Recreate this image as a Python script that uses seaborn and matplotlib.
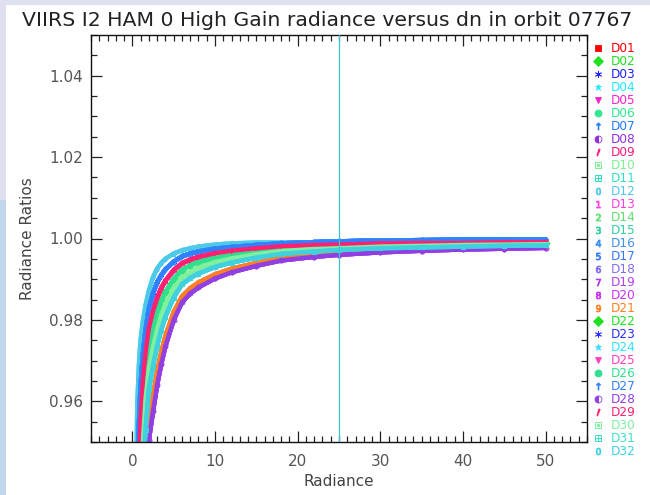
import numpy as np
import pandas as pd
import matplotlib
matplotlib.use("Agg")
import matplotlib.pyplot as plt
import seaborn as sns
from matplotlib.lines import Line2D
from matplotlib.ticker import MultipleLocator, FormatStrFormatter
from matplotlib.patches import Rectangle

nan = np.nan

# ---------------- data ----------------
title = "VIIRS I2 HAM 0 High Gain radiance versus dn in orbit 07767"
detectors = ["D%02d" % k for k in range(1, 33)]

radiance = [0.5, 0.6, 0.8, 1.0, 1.3, 1.6, 2.0, 2.5, 3.0, 3.5, 4.0, 5.0, 6.0,
            7.0, 8.0, 10, 12, 15, 18, 22, 25, 30, 35, 40, 45, 50]

# curve families (top of the band -> bottom of the band)
ratio_level_0 = [0.946, 0.959, 0.969, 0.975, 0.980, 0.9836, 0.9872, 0.9905, 0.9926, 0.9940, 0.9950, 0.9963, 0.9971,
                 0.9976, 0.9980, 0.9985, 0.9988, 0.9990, 0.9990, 0.9990, 0.9991, 0.9991, 0.9991, 0.9992, 0.9992, 0.9992]
ratio_level_1 = [nan, 0.940, 0.9545, 0.964, 0.972, 0.9775, 0.9828, 0.9865, 0.9892, 0.9910, 0.9924, 0.9943, 0.9956,
                 0.9963, 0.9968, 0.9975, 0.9979, 0.9984, 0.9988, 0.9991, 0.9993, 0.9995, 0.9996, 0.9997, 0.9997, 0.9997]
ratio_level_2 = [nan, nan, 0.944, 0.9555, 0.9655, 0.9720, 0.9780, 0.9822, 0.9854, 0.9878, 0.9896, 0.9922, 0.9939,
                 0.9948, 0.9955, 0.9964, 0.9970, 0.9976, 0.9981, 0.9984, 0.9985, 0.9988, 0.9989, 0.9989, 0.9991, 0.9991]
ratio_level_3 = [nan, nan, nan, 0.946, 0.958, 0.9665, 0.9733, 0.9780, 0.9817, 0.9846, 0.9868, 0.9901, 0.9922,
                 0.9934, 0.9942, 0.9953, 0.9961, 0.9969, 0.9975, 0.9979, 0.9981, 0.9984, 0.9985, 0.9987, 0.9988, 0.9989]
ratio_level_4 = [nan, nan, nan, 0.938, 0.9505, 0.9605, 0.9681, 0.9733, 0.9777, 0.9811, 0.9838, 0.9878, 0.9904,
                 0.9918, 0.9928, 0.9942, 0.9951, 0.9961, 0.9969, 0.9974, 0.9976, 0.9980, 0.9982, 0.9984, 0.9985, 0.9986]
ratio_level_5 = [nan, nan, nan, nan, 0.943, 0.953, 0.9630, 0.9687, 0.9737, 0.9776, 0.9808, 0.9855, 0.9887,
                 0.9903, 0.9914, 0.9930, 0.9941, 0.9953, 0.9962, 0.9968, 0.9972, 0.9976, 0.9978, 0.9980, 0.9982, 0.9983]
ratio_level_6 = [nan, nan, nan, nan, nan, 0.944, 0.9549, 0.9615, 0.9674, 0.9722, 0.9761, 0.9820, 0.9858,
                 0.9878, 0.9892, 0.9912, 0.9926, 0.9940, 0.9952, 0.9960, 0.9964, 0.9969, 0.9973, 0.9976, 0.9978, 0.9979]
ratio_level_7 = [nan, nan, nan, nan, nan, 0.940, 0.9505, 0.9575, 0.9640, 0.9692, 0.9735, 0.9800, 0.9843,
                 0.9865, 0.9880, 0.9902, 0.9917, 0.9933, 0.9946, 0.9955, 0.9960, 0.9966, 0.9970, 0.9973, 0.9975, 0.9977]
levels = [ratio_level_0, ratio_level_1, ratio_level_2, ratio_level_3,
          ratio_level_4, ratio_level_5, ratio_level_6, ratio_level_7]

# which curve family each detector follows
detector_level = [2, 3, 1, 0, 2, 4, 1, 7, 2, 4, 5, 0, 2, 4, 5, 1,
                  1, 6, 7, 7, 6, 3, 1, 1, 2, 3, 1, 7, 2, 4, 5, 5]

marker_radiance = 25

# ---------------- styles ----------------
colors = ["#ff0000", "#22e022", "#2020ff", "#20e8ff", "#ff20c8", "#30e890", "#2080ff", "#9030e0",
          "#ff1a78", "#80f090", "#30e0c0", "#50c8e8", "#ff40e0", "#60e070", "#30d0a0", "#4090f0",
          "#3878ff", "#8070f0", "#b040f0", "#d030ff", "#ff8020", "#20e020", "#3030ff", "#30e0ff",
          "#ff40c0", "#30e090", "#3080ff", "#9040e0", "#ff2070", "#80f0a0", "#40e0c8", "#40d0e0"]
half = "o"
markers = ["s", "D", (6, 2, 0), "*", "v", "o", r"$\uparrow$", half, r"$\prime$", r"$\boxdot$", r"$\boxplus$",
           r"$0$", r"$1$", r"$2$", r"$3$", r"$4$", r"$5$", r"$6$", r"$7$", r"$8$", r"$9$",
           "D", (6, 2, 0), "*", "v", "o", r"$\uparrow$", half, r"$\prime$", r"$\boxdot$", r"$\boxplus$", r"$0$"]
fills = ["left" if i in (7, 27) else "full" for i in range(32)]

sns.set_theme(style="white")
plt.rcParams["font.family"] = ["DejaVu Sans"]
plt.rcParams["mathtext.fontset"] = "dejavusans"

fig = plt.figure(figsize=(6.5, 4.95), dpi=100)
fig.patch.set_facecolor("#dfe1f0")
fig.add_artist(Rectangle((6 / 650, 0), 1, 1 - 5 / 495, transform=fig.transFigure,
                         facecolor="white", edgecolor="none", zorder=-10))
fig.add_artist(Rectangle((0, 0), 6 / 650, 1 - 200 / 495, transform=fig.transFigure,
                         facecolor="#c3d7ea", edgecolor="none", zorder=-10))

ax = fig.add_axes([91 / 650, 1 - 442 / 495, 496 / 650, 407 / 495])
ax.set_facecolor("white")

for i, det in enumerate(detectors):
    vals = levels[detector_level[i]]
    df = pd.DataFrame({"Radiance": radiance, "Ratio": vals}).dropna()
    sns.lineplot(data=df, x="Radiance", y="Ratio", ax=ax, color=colors[i], lw=3.2,
                 marker=markers[i], markersize=3.5, markeredgecolor=colors[i],
                 markerfacecolor=colors[i], markeredgewidth=0.5, fillstyle=fills[i],
                 estimator=None, sort=False, legend=False)

ax.axvline(marker_radiance, color="#3cc4d4", lw=0.9, zorder=5)

ax.set_xlim(-5, 55)
ax.set_ylim(0.95, 1.05)
ax.set_xticks([0, 10, 20, 30, 40, 50])
ax.xaxis.set_minor_locator(MultipleLocator(1))
ax.yaxis.set_major_locator(MultipleLocator(0.02))
ax.yaxis.set_minor_locator(MultipleLocator(0.005))
ax.tick_params(which="both", direction="in", bottom=True, left=True, top=True, right=True,
               colors="#222222", labelcolor="#555555", labelsize=11, width=0.9)
ax.tick_params(which="major", length=8)
ax.tick_params(which="minor", length=4)
ax.tick_params(axis="x", pad=9)
ax.tick_params(axis="y", pad=6)
ax.yaxis.set_major_formatter(FormatStrFormatter("%.2f"))
for s in ax.spines.values():
    s.set_color("#111111")
    s.set_linewidth(1.0)
ax.set_xlabel("Radiance", fontsize=11, color="#444444", labelpad=3)
ax.set_ylabel("Radiance Ratios", fontsize=11, color="#444444", labelpad=10)

handles = [Line2D([], [], ls="none", marker=markers[i], color=colors[i], markersize=5,
                  markeredgecolor=colors[i], markeredgewidth=0.6, fillstyle=fills[i])
           for i in range(32)]
ax.legend(handles, detectors, loc="upper left", bbox_to_anchor=(0.998, 0.995), frameon=False,
          fontsize=8.7, labelcolor=colors, handlelength=1.15, handletextpad=0.45,
          labelspacing=0.0, borderaxespad=0, borderpad=0.45)

fig.text(22 / 650, 1 - 20 / 495, title, ha="left", va="center", fontsize=14.7, color="#222222")

fig.savefig("out.png", dpi=100, facecolor=fig.get_facecolor())
